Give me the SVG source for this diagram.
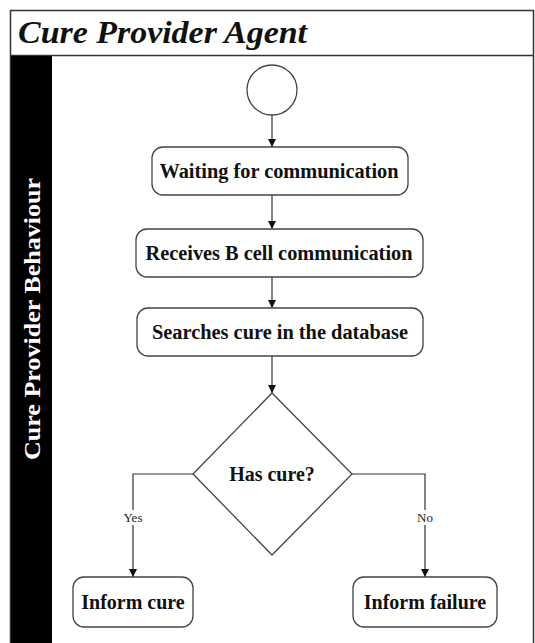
<svg xmlns="http://www.w3.org/2000/svg" width="535" height="643" viewBox="0 0 535 643">
  <style>
    .frame { fill: #fff; stroke: #333; stroke-width: 1.5; }
    .node { fill: #fff; stroke: #444; stroke-width: 1.3; }
    .label { font-family: "Liberation Serif", "Times New Roman", serif; font-weight: bold; font-size: 20px; fill: #111; text-anchor: middle; }
    .edge { fill: none; stroke: #333; stroke-width: 1.2; }
    .guard { font-family: "Liberation Serif", "Times New Roman", serif; font-size: 13px; fill: #222; text-anchor: middle; }
  </style>
  <defs>
    <marker id="arrow" viewBox="0 0 10 10" refX="10" refY="5" markerWidth="8" markerHeight="8" markerUnits="userSpaceOnUse" orient="auto">
      <path d="M0,0 L10,5 L0,10 Z" fill="#111"/>
    </marker>
  </defs>

  <rect width="535" height="643" fill="#fff"/>

  <!-- swimlane frame -->
  <g id="lane">
    <rect class="frame" x="10.5" y="10.5" width="523" height="640"/>
    <line x1="10.5" y1="55.5" x2="533.5" y2="55.5" stroke="#333" stroke-width="1.5"/>
    <text x="18" y="43" font-family="Liberation Serif, Times New Roman, serif" font-style="italic" font-weight="bold" font-size="32" fill="#111" textLength="289" lengthAdjust="spacingAndGlyphs">Cure Provider Agent</text>
    <rect x="11" y="56" width="41" height="590" fill="#000"/>
    <text transform="translate(40,319) rotate(-90)" font-family="Liberation Serif, Times New Roman, serif" font-weight="bold" font-size="23" fill="#fff" text-anchor="middle" textLength="282" lengthAdjust="spacingAndGlyphs">Cure Provider Behaviour</text>
  </g>

  <!-- connectors -->
  <g id="edges">
    <line class="edge" x1="272" y1="115" x2="272" y2="147" marker-end="url(#arrow)"/>
    <line class="edge" x1="272" y1="195" x2="272" y2="229" marker-end="url(#arrow)"/>
    <line class="edge" x1="272" y1="277" x2="272" y2="308" marker-end="url(#arrow)"/>
    <line class="edge" x1="272" y1="356" x2="272" y2="393" marker-end="url(#arrow)"/>
    <polyline class="edge" points="193,474 133,474 133,577" marker-end="url(#arrow)"/>
    <polyline class="edge" points="352,474 425,474 425,577" marker-end="url(#arrow)"/>
    <rect x="120" y="510" width="26" height="15" fill="#fff"/>
    <text class="guard" x="133" y="522">Yes</text>
    <rect x="414" y="510" width="22" height="15" fill="#fff"/>
    <text class="guard" x="425" y="522">No</text>
  </g>

  <!-- nodes -->
  <g id="start">
    <circle class="node" cx="272" cy="90" r="25"/>
  </g>
  <g id="waiting">
    <rect class="node" x="152" y="147" width="256" height="48" rx="11"/>
    <text class="label" x="279" y="178" textLength="239" lengthAdjust="spacingAndGlyphs">Waiting for communication</text>
  </g>
  <g id="receives">
    <rect class="node" x="136" y="229" width="287" height="48" rx="11"/>
    <text class="label" x="279" y="260" textLength="267" lengthAdjust="spacingAndGlyphs">Receives B cell communication</text>
  </g>
  <g id="searches">
    <rect class="node" x="137" y="308" width="286" height="48" rx="11"/>
    <text class="label" x="280" y="339" textLength="256" lengthAdjust="spacingAndGlyphs">Searches cure in the database</text>
  </g>
  <g id="has-cure">
    <polygon class="node" points="272,393 352,474 272,555 193,474"/>
    <text class="label" x="272" y="481">Has cure?</text>
  </g>
  <g id="inform-cure">
    <rect class="node" x="73" y="577" width="120" height="50" rx="11"/>
    <text class="label" x="133" y="609">Inform cure</text>
  </g>
  <g id="inform-failure">
    <rect class="node" x="353" y="577" width="144" height="50" rx="11"/>
    <text class="label" x="425" y="609">Inform failure</text>
  </g>
</svg>
